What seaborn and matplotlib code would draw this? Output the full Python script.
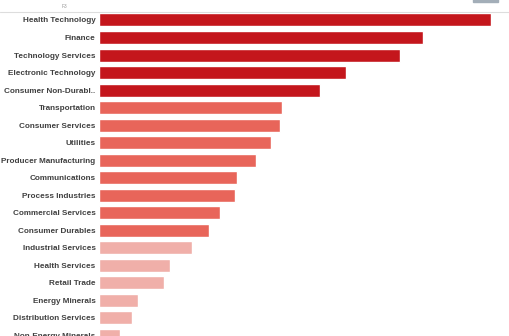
import pandas as pd
import seaborn as sns
import matplotlib.pyplot as plt
from matplotlib.lines import Line2D
from matplotlib.patches import Rectangle

# Data
sectors = ['Health Technology', 'Finance', 'Technology Services', 'Electronic Technology',
           'Consumer Non-Durabl..', 'Transportation', 'Consumer Services', 'Utilities',
           'Producer Manufacturing', 'Communications', 'Process Industries',
           'Commercial Services', 'Consumer Durables', 'Industrial Services',
           'Health Services', 'Retail Trade', 'Energy Minerals', 'Distribution Services',
           'Non-Energy Minerals']
values = [392, 324, 301, 247, 221, 183, 181, 172, 157, 138, 136, 121, 110, 93, 71, 65, 39, 33, 21]
tiers = ['high'] * 5 + ['mid'] * 8 + ['low'] * 6

tier_colors = {'high': '#c4161c', 'mid': '#e8655a', 'low': '#f0afa9'}

df = pd.DataFrame({'sector': sectors, 'value': values, 'tier': tiers})

sns.set_style('white')
plt.rcParams['font.family'] = ['Liberation Sans', 'DejaVu Sans']

fig = plt.figure(figsize=(5.1, 3.36), dpi=100)
ax = fig.add_axes([99 / 510, 0, 411 / 510, 324.8 / 336])

sns.barplot(data=df, x='value', y='sector', hue='tier', palette=tier_colors,
            orient='h', width=0.74, dodge=False, legend=False, saturation=1, ax=ax)

ax.set_xlim(0, 411)
ax.set_ylim(18.03, -0.5)
ax.set_xlabel('')
ax.set_ylabel('')
ax.set_xticks([])
for s in ax.spines.values():
    s.set_visible(False)
ax.tick_params(axis='y', length=0, pad=2.5, labelsize=5.85, labelcolor='#404040')
for lab in ax.get_yticklabels():
    lab.set_fontweight('bold')

# header line, field label and small button
fig.add_artist(Line2D([0, 1], [1 - 11.5 / 336] * 2, color='#dddddd', lw=0.8))
fig.text(62 / 510, 1 - 6 / 336, 'F3', fontsize=3.5, color='#999999', va='center')
fig.add_artist(Rectangle((473 / 510, 1 - 2 / 336), 25 / 510, 3 / 336,
                         color='#a3aeb8', transform=fig.transFigure))

fig.savefig('out.png', dpi=100)
